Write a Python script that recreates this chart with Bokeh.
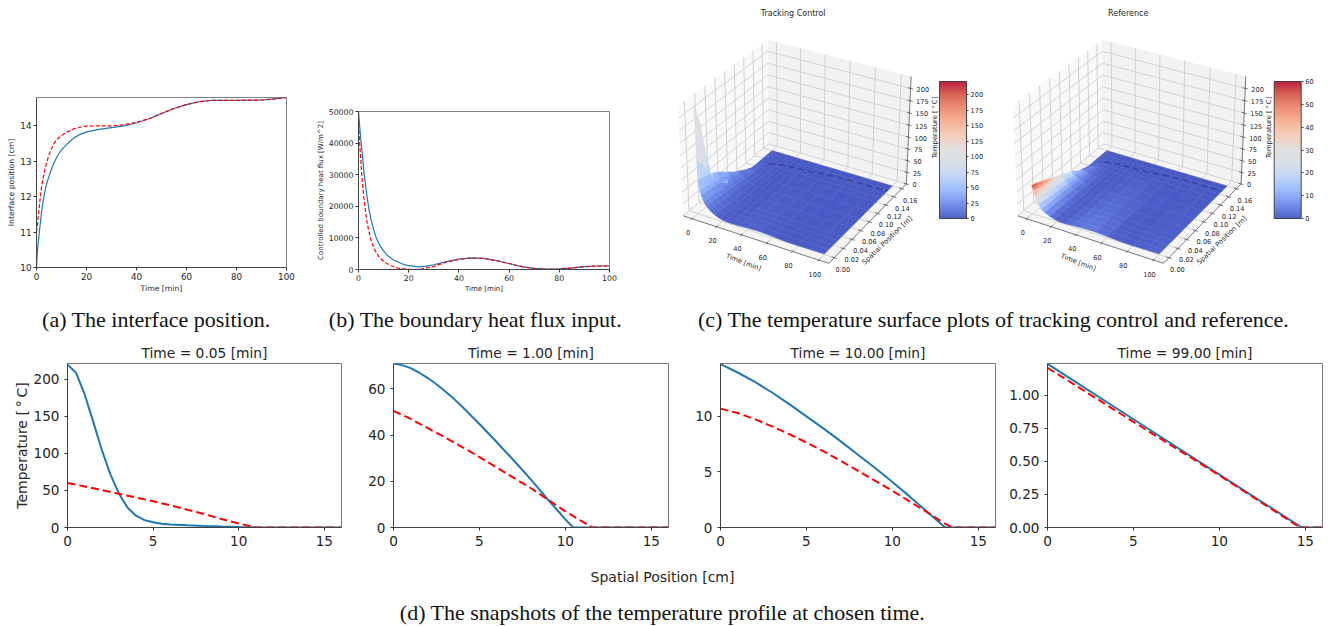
import numpy as np
from bokeh.plotting import figure
from bokeh.layouts import column, row
from bokeh.models import FixedTicker, NumeralTickFormatter, Range1d, ColorBar, LinearColorMapper
from bokeh.core.properties import value
from bokeh.embed import file_html
from bokeh.resources import INLINE

# ---------- panel (a): interface position ----------
a_t_blue = [0, 0.3, 0.6, 1, 1.5, 2, 2.5, 3, 3.5, 4, 5, 5.7, 7, 8, 9, 10, 12.4, 15, 17.5, 20, 25, 30, 35, 40, 45, 50, 55, 60, 65, 70, 80, 90, 95, 100]
a_s_blue = [10, 10.4, 10.65, 10.9, 11.25, 11.55, 11.8, 12.0, 12.2, 12.35, 12.58, 12.72, 12.96, 13.1, 13.22, 13.32, 13.5, 13.66, 13.76, 13.83, 13.9, 13.95, 14.0, 14.08, 14.2, 14.35, 14.49, 14.6, 14.68, 14.72, 14.72, 14.73, 14.76, 14.8]
a_t_red = [0, 0.25, 0.5, 1, 1.7, 2.2, 2.7, 3.2, 3.7, 4.3, 5, 6, 7, 8, 9, 10, 11, 12.4, 15, 17.5, 20, 25, 30, 35, 40, 45, 50, 55, 60, 65, 70, 80, 90, 95, 100]
a_s_red = [11, 11.15, 11.3, 11.65, 12.1, 12.35, 12.55, 12.72, 12.86, 13.02, 13.18, 13.36, 13.5, 13.6, 13.67, 13.72, 13.77, 13.83, 13.92, 13.96, 13.99, 14.0, 14.0, 14.03, 14.1, 14.2, 14.35, 14.49, 14.6, 14.68, 14.72, 14.72, 14.73, 14.76, 14.8]

# ---------- panel (b): boundary heat flux ----------
b_t_blue = [0, 0.5, 1, 1.5, 2.3, 3, 3.6, 4.3, 5, 6, 7, 8, 9, 10, 11.5, 13, 15, 18, 20, 24, 27, 30, 35, 40, 45, 50, 55, 60, 65, 70, 75, 80, 85, 90, 95, 100]
b_q_blue = [50000, 45000, 40500, 36500, 30000, 25500, 22000, 18500, 15800, 12700, 10200, 8300, 7000, 5900, 4500, 3500, 2600, 1600, 1200, 850, 1050, 1500, 2500, 3300, 3700, 3500, 2800, 1900, 900, 350, 100, 200, 500, 900, 1100, 1150]
b_t_red = [0, 0.5, 1, 1.5, 2.3, 3.2, 4, 5, 6, 7, 8, 9, 10, 11.5, 13, 16, 20, 22, 25, 30, 35, 40, 45, 50, 55, 60, 65, 70, 75, 80, 85, 90, 95, 100]
b_q_red = [46000, 39500, 33500, 28000, 21500, 16000, 12500, 9300, 7000, 5500, 4200, 3300, 2600, 1800, 1200, 400, 30, 0, 100, 1000, 2300, 3200, 3650, 3500, 2800, 1900, 900, 300, 60, 180, 480, 880, 1080, 1130]

# ---------- panels (d): snapshots ----------
snap_titles = ["Time = 0.05 [min]", "Time = 1.00 [min]", "Time = 10.00 [min]", "Time = 99.00 [min]"]
snap_ymax = [221.5, 71, 14.76, 1.242]
snap_yticks = [[0, 50, 100, 150, 200], [0, 20, 40, 60], [0, 5, 10], [0, 0.25, 0.5, 0.75, 1.0]]
s1_x_blue = [0, 0.5, 1, 1.5, 2, 2.5, 3, 3.5, 4, 4.5, 5, 5.5, 6, 7, 8, 9, 10, 11, 12, 13, 16]
s1_y_blue = [220, 209, 180, 143, 105, 72, 46, 27, 16, 10, 7, 5.2, 4.2, 3, 2, 1.3, 0.8, 0.4, 0.1, 0, 0]
s1_x_red = [0, 1, 2, 3, 4, 5, 6, 7, 8, 9, 10, 11, 16]
s1_y_red = [60, 55.5, 50.5, 45.5, 40.5, 35.5, 30, 24, 18, 11.5, 5.5, 0, 0]
s2_x_blue = [0, 0.5, 1, 1.5, 2, 2.5, 3, 3.5, 4, 5, 6, 7, 8, 9, 10, 10.45, 16]
s2_y_blue = [71, 70.3, 69, 67, 64.7, 62, 59, 55.8, 52.3, 44.8, 37, 29, 20.7, 12, 3.5, 0, 0]
s2_x_red = [0, 1, 2, 3, 4, 5, 6, 7, 8, 9, 10, 11, 11.55, 16]
s2_y_red = [50.5, 47, 43, 39, 34.8, 30.5, 26, 21.5, 17, 12, 7, 2.5, 0, 0]
s3_x_blue = [0, 1, 2, 3, 4, 5, 6, 7, 8, 9, 10, 11, 12, 13, 13.1, 16]
s3_y_blue = [14.7, 13.95, 13.1, 12.15, 11.1, 10, 8.9, 7.75, 6.55, 5.35, 4.1, 2.8, 1.45, 0.1, 0, 0]
s3_x_red = [0, 1, 2, 3, 4, 5, 6, 7, 8, 9, 10, 11, 12, 13, 13.5, 16]
s3_y_red = [10.7, 10.3, 9.75, 9.1, 8.4, 7.65, 6.85, 6, 5.1, 4.2, 3.3, 2.35, 1.4, 0.4, 0, 0]
s4_x_blue = [0, 5, 10, 14.8, 16]
s4_y_blue = [1.24, 0.82, 0.40, 0, 0]
s4_x_red = [0, 5, 10, 14.7, 16]
s4_y_red = [1.21, 0.80, 0.395, 0, 0]

# ---------- panels (c): temperature surfaces ----------
surf_y_cm = [0, 1, 2, 3, 4, 6, 8, 10, 12, 13, 14, 15, 16]
surf_t_min = [0, 0.5, 1, 2, 3, 5, 7, 10, 14, 18, 22, 27, 33, 40, 50, 60, 70, 80, 90, 100]
tracking_T = [
    [220, 180, 105, 46, 16, 4.2, 2, 0.8, 0, 0, 0, 0, 0],
    [110, 98, 76, 52, 33, 13, 5, 1.5, 0, 0, 0, 0, 0],
    [71, 69, 65.5, 60.5, 53.5, 37, 20.5, 3.5, 0, 0, 0, 0, 0],
    [52, 50, 47, 44, 41, 33, 23, 10, 0, 0, 0, 0, 0],
    [42, 41, 39, 36, 33, 27, 20, 12, 2, 0, 0, 0, 0],
    [30, 29, 27.5, 26, 24, 20, 15, 9.5, 4, 1, 0, 0, 0],
    [22, 21, 20, 19, 18, 15, 11.5, 8, 3.5, 1, 0, 0, 0],
    [14.7, 13.9, 13, 12, 11, 8.8, 6.5, 4.1, 1.4, 0.1, 0, 0, 0],
    [8.5, 8, 7.5, 7, 6.4, 5.2, 4, 2.8, 1.4, 0.6, 0, 0, 0],
    [4.5, 4.2, 3.9, 3.6, 3.3, 2.7, 2.1, 1.5, 0.8, 0.4, 0, 0, 0],
    [2.2, 2, 1.9, 1.7, 1.6, 1.3, 1, 0.7, 0.4, 0.2, 0, 0, 0],
    [1.6, 1.5, 1.4, 1.3, 1.1, 0.9, 0.7, 0.5, 0.2, 0.1, 0, 0, 0],
    [2.3, 2.1, 2, 1.8, 1.6, 1.3, 1, 0.7, 0.3, 0.2, 0, 0, 0],
    [3.6, 3.4, 3.1, 2.9, 2.6, 2.1, 1.6, 1.1, 0.6, 0.3, 0.05, 0, 0],
    [4.2, 3.9, 3.6, 3.3, 3, 2.4, 1.9, 1.3, 0.7, 0.4, 0.1, 0, 0],
    [2.7, 2.5, 2.3, 2.1, 1.9, 1.6, 1.2, 0.8, 0.5, 0.3, 0.1, 0, 0],
    [0.9, 0.85, 0.8, 0.75, 0.65, 0.55, 0.4, 0.3, 0.15, 0.1, 0.04, 0, 0],
    [0.5, 0.47, 0.43, 0.4, 0.36, 0.3, 0.23, 0.16, 0.09, 0.06, 0.02, 0, 0],
    [0.95, 0.9, 0.8, 0.75, 0.7, 0.55, 0.43, 0.3, 0.18, 0.1, 0.04, 0, 0],
    [1.24, 1.15, 1.07, 0.98, 0.9, 0.74, 0.57, 0.4, 0.23, 0.15, 0.07, 0, 0],
]
reference_T = [
    [60, 56, 51, 46, 41, 31, 19.5, 6, 0, 0, 0, 0, 0],
    [55, 51.5, 47, 42.5, 38, 28.5, 18.5, 7, 0, 0, 0, 0, 0],
    [50.5, 47, 43, 39, 34.5, 26, 17, 7, 0, 0, 0, 0, 0],
    [40, 38, 35, 32, 29, 23, 16, 8, 0.5, 0, 0, 0, 0],
    [33, 31, 29, 27, 25, 20, 14.5, 8, 1.5, 0, 0, 0, 0],
    [24, 23, 21.5, 20, 18.5, 15, 11, 7, 2.5, 0.5, 0, 0, 0],
    [16, 15, 14.3, 13.5, 12.5, 10.3, 8, 5.2, 2.2, 0.7, 0, 0, 0],
    [10.7, 10.3, 9.7, 9.1, 8.4, 6.8, 5.1, 3.3, 1.4, 0.4, 0, 0, 0],
    [6, 5.7, 5.3, 5, 4.6, 3.7, 2.9, 2, 1, 0.5, 0.05, 0, 0],
    [2.8, 2.6, 2.4, 2.3, 2.1, 1.7, 1.3, 0.9, 0.5, 0.25, 0, 0, 0],
    [1, 0.95, 0.9, 0.8, 0.75, 0.6, 0.45, 0.3, 0.15, 0.1, 0, 0, 0],
    [1, 0.95, 0.9, 0.8, 0.75, 0.6, 0.45, 0.3, 0.15, 0.1, 0, 0, 0],
    [2.2, 2, 1.9, 1.7, 1.5, 1.2, 0.9, 0.6, 0.3, 0.2, 0, 0, 0],
    [3.5, 3.3, 3, 2.8, 2.5, 2, 1.5, 1, 0.6, 0.3, 0.05, 0, 0],
    [4.1, 3.8, 3.5, 3.2, 2.9, 2.3, 1.8, 1.3, 0.7, 0.4, 0.1, 0, 0],
    [2.7, 2.5, 2.3, 2.1, 1.9, 1.6, 1.2, 0.8, 0.5, 0.3, 0.1, 0, 0],
    [0.85, 0.8, 0.75, 0.7, 0.6, 0.5, 0.4, 0.3, 0.15, 0.1, 0.04, 0, 0],
    [0.45, 0.42, 0.4, 0.37, 0.33, 0.27, 0.2, 0.15, 0.08, 0.05, 0.02, 0, 0],
    [0.93, 0.88, 0.78, 0.73, 0.68, 0.53, 0.42, 0.3, 0.17, 0.1, 0.04, 0, 0],
    [1.21, 1.12, 1.05, 0.96, 0.88, 0.72, 0.56, 0.39, 0.23, 0.15, 0.07, 0, 0],
]
x3_ticks = [0, 20, 40, 60, 80, 100]
y3_ticks = [0, 0.02, 0.04, 0.06, 0.08, 0.10, 0.12, 0.14, 0.16]
z3_ticks = [0, 25, 50, 75, 100, 125, 150, 175, 200]
cb_ticks_tracking = [0, 25, 50, 75, 100, 125, 150, 175, 200]
cb_ticks_reference = [0, 10, 20, 30, 40, 50, 60]

# ---------- colours and fonts ----------
BLUE, RED, INK = "#1f77b4", "#ff0000", "#262626"
SANS, SERIF = value("DejaVu Sans"), value("Liberation Serif")
coolwarm_anchors = ["#3b4cc0", "#6282ea", "#8db0fe", "#b7cff9", "#d4dbe6", "#dddcdc",
                    "#f2cbb7", "#f7ac8e", "#ee8468", "#d65244", "#b40426"]


def coolwarm_rgb(f):
    f = float(np.clip(f, 0, 1)) * 10
    i = min(int(f), 9)
    w = f - i
    a = [int(coolwarm_anchors[i][k:k + 2], 16) for k in (1, 3, 5)]
    b = [int(coolwarm_anchors[i + 1][k:k + 2], 16) for k in (1, 3, 5)]
    return [p + (q - p) * w for p, q in zip(a, b)]


def coolwarm(f, white=0.0):
    rgb = coolwarm_rgb(f)
    return "#%02x%02x%02x" % tuple(int(round(c + (255 - c) * white)) for c in rgb)


palette256 = [coolwarm(i / 255) for i in range(256)]


def style_axes(p, tick_size, label_size, xticks, yticks, outline="#808080", standoff=2):
    p.xgrid.visible = False
    p.ygrid.visible = False
    p.outline_line_color = outline
    p.outline_line_width = 1
    p.xaxis.ticker = FixedTicker(ticks=xticks)
    p.yaxis.ticker = FixedTicker(ticks=yticks)
    for ax in (p.xaxis[0], p.yaxis[0]):
        ax.major_label_text_font = "DejaVu Sans"
        ax.major_label_text_font_size = tick_size
        ax.major_label_text_color = INK
        ax.axis_label_text_font = "DejaVu Sans"
        ax.axis_label_text_font_size = label_size
        ax.axis_label_text_font_style = "normal"
        ax.axis_label_text_color = INK
        ax.major_tick_in = 0
        ax.major_tick_out = 3
        ax.minor_tick_line_color = None
        ax.axis_line_color = "#444444"
        ax.major_tick_line_color = "#333333"
        ax.major_label_standoff = standoff
        ax.axis_label_standoff = 1


def line_panel(w, h, borders, xr, yr):
    left, right, top, bottom = borders
    return figure(width=w, height=h, x_range=Range1d(*xr), y_range=Range1d(*yr),
                  min_border_left=left, min_border_right=right, min_border_top=top,
                  min_border_bottom=bottom, output_backend="svg", toolbar_location=None,
                  tools="", frame_align=False)


# panel a
pa = line_panel(310, 295, (36, 24, 97, 26), (0, 100), (10, 14.8))
pa.line(a_t_blue, a_s_blue, line_color=BLUE, line_width=1.2)
pa.line(a_t_red, a_s_red, line_color=RED, line_width=1.2, line_dash="4 2")
pa.xaxis.axis_label = "Time [min]"
pa.yaxis.axis_label = "Interface position [cm]"
style_axes(pa, "8.8px", "7.7px", [0, 20, 40, 60, 80, 100], [10, 11, 12, 13, 14])

# panel b
pb = line_panel(330, 295, (48, 31, 111, 24), (0, 100), (0, 50000))
pb.line(b_t_blue, b_q_blue, line_color=BLUE, line_width=1.2)
pb.line(b_t_red, b_q_red, line_color=RED, line_width=1.2, line_dash="4 2")
pb.xaxis.axis_label = "Time [min]"
pb.yaxis.axis_label = "Controlled boundary heat flux [W/m^2]"
style_axes(pb, "7.8px", "7px", [0, 20, 40, 60, 80, 100], [0, 10000, 20000, 30000, 40000, 50000])
pb.yaxis[0].formatter = NumeralTickFormatter(format="0")

# ---------- 3D panels: matplotlib-like camera, calibrated on the box corners ----------
PX0, PX1, PY0, PY1 = 640, 1330, 0, 295
pc = figure(width=PX1 - PX0, height=PY1 - PY0, x_range=Range1d(PX0, PX1), y_range=Range1d(PY1, PY0),
            min_border=0, output_backend="svg", toolbar_location=None, tools="", frame_align=False)
pc.axis.visible = False
pc.grid.visible = False
pc.outline_line_color = None

XLIM, YLIM, ZLIM = (-7.5, 107.5), (-0.012, 0.172), (0, 224)
BOX = np.array([1.143, 1.143, 0.857])
EL, AZ, DIST = np.radians(30), np.radians(-60), 10.0
W = np.array([np.cos(EL) * np.cos(AZ), np.cos(EL) * np.sin(AZ), np.sin(EL)])
U = np.cross([0, 0, 1], W)
U = U / np.linalg.norm(U)
V = np.cross(W, U)


def cam(x, y, z):
    n = np.stack([(np.asarray(x, float) - XLIM[0]) / (XLIM[1] - XLIM[0]),
                  (np.asarray(y, float) - YLIM[0]) / (YLIM[1] - YLIM[0]),
                  (np.asarray(z, float) - ZLIM[0]) / (ZLIM[1] - ZLIM[0])], axis=-1)
    q = (n - 0.5) * BOX
    d = q @ W
    return (q @ U) / (DIST - d), (q @ V) / (DIST - d), d


corner_cube = [(0, 0, 0), (1, 0, 0), (1, 1, 0), (0, 1, 0), (0, 0, 1), (0, 1, 1), (1, 1, 1)]
corner_px = [(682.7, 215), (828.3, 263.3), (906, 182.7), (767.3, 144), (677.7, 105), (767.3, 39.3), (910.7, 76)]
cc = np.array(corner_cube, float)
cu, cv, _ = cam(XLIM[0] + cc[:, 0] * (XLIM[1] - XLIM[0]), YLIM[0] + cc[:, 1] * (YLIM[1] - YLIM[0]),
                ZLIM[0] + cc[:, 2] * (ZLIM[1] - ZLIM[0]))
cp = np.array(corner_px)
fx = np.linalg.lstsq(np.c_[cu, np.ones(7)], cp[:, 0], rcond=None)[0]
fy = np.linalg.lstsq(np.c_[cv, np.ones(7)], cp[:, 1], rcond=None)[0]


def to_px(x, y, z, off=0.0):
    u, v, _ = cam(x, y, z)
    return fx[0] * u + fx[1] + off, fy[0] * v + fy[1]


def seg(pairs, off):
    xs, ys = [], []
    for a, b in pairs:
        sx, sy = to_px([a[0], b[0]], [a[1], b[1]], [a[2], b[2]], off)
        xs.append(list(sx))
        ys.append(list(sy))
    return xs, ys


def panel3d(title, title_x, table, vmax, interface_t, interface_s, off, cb_ticks):
    x0, x1 = XLIM
    y0, y1 = YLIM
    z0, z1 = ZLIM
    # panes
    for (a, b, c, d), col in (
        (((x0, y0, z0), (x0, y1, z0), (x0, y1, z1), (x0, y0, z1)), "#f9f9f9"),
        (((x0, y1, z0), (x1, y1, z0), (x1, y1, z1), (x0, y1, z1)), "#f2f2f2"),
        (((x0, y0, z0), (x1, y0, z0), (x1, y1, z0), (x0, y1, z0)), "#f5f5f5"),
    ):
        pts = np.array([a, b, c, d])
        sx, sy = to_px(pts[:, 0], pts[:, 1], pts[:, 2], off)
        pc.patch(list(sx), list(sy), fill_color=col, line_color=None)
    # grid
    pairs = []
    for t in x3_ticks:
        pairs += [((t, y0, z0), (t, y1, z0)), ((t, y1, z0), (t, y1, z1))]
    for t in y3_ticks:
        pairs += [((x0, t, z0), (x1, t, z0)), ((x0, t, z0), (x0, t, z1))]
    for t in z3_ticks:
        pairs += [((x0, y0, t), (x0, y1, t)), ((x0, y1, t), (x1, y1, t))]
    xs, ys = seg(pairs, off)
    pc.multi_line(xs, ys, line_color="#d2d2d2", line_width=1)
    # axis lines and ticks
    dy = 0.003
    dx = 2.0
    pairs = [((x0, y0, z0), (x1, y0, z0)), ((x1, y0, z0), (x1, y1, z0)), ((x1, y1, z0), (x1, y1, z1))]
    for t in x3_ticks:
        pairs.append(((t, y0 - dy, z0), (t, y0 + dy, z0)))
    for t in y3_ticks:
        pairs.append(((x1 - dx, t, z0), (x1 + dx, t, z0)))
    for t in z3_ticks:
        pairs.append(((x1 - dx, y1, t), (x1 + dx, y1, t)))
    xs, ys = seg(pairs, off)
    pc.multi_line(xs, ys, line_color="#555555", line_width=0.8)
    # surface, painted from the far cells to the near ones; a cell takes the colour of its later-time edge
    Z = np.array(table, float)
    T = np.array(surf_t_min, float)
    Y = np.array(surf_y_cm, float) / 100
    cells = []
    for i in range(len(T) - 1):
        for j in range(len(Y) - 1):
            cx = [T[i], T[i + 1], T[i + 1], T[i]]
            cy = [Y[j], Y[j], Y[j + 1], Y[j + 1]]
            cz = [Z[i, j], Z[i + 1, j], Z[i + 1, j + 1], Z[i, j + 1]]
            sx, sy = to_px(cx, cy, cz, off)
            depth = cam(np.mean(cx), np.mean(cy), np.mean(cz))[2]
            tone = (Z[i + 1, j] + Z[i + 1, j + 1]) / 2 / vmax
            cells.append((float(depth), list(sx), list(sy), coolwarm(tone, 0.07)))
    cells.sort(key=lambda c: c[0])
    cols = [c[3] for c in cells]
    pc.patches([c[1] for c in cells], [c[2] for c in cells], fill_color=cols, line_color=cols,
               line_width=0.4)
    # dark band along the moving interface
    sx, sy = to_px(interface_t, np.array(interface_s) / 100, np.zeros(len(interface_t)), off)
    pc.line(list(sx), list(sy), line_color="#2c3a96", line_alpha=0.75, line_width=1.4, line_dash="6 4")
    # text
    txt = dict(text_font=SANS, text_color=INK, text_baseline="middle")
    pc.text([title_x], [13], [title], text_font_size="8px", text_align="center", **txt)
    sx, sy = to_px(x3_ticks, [y0] * len(x3_ticks), [z0] * len(x3_ticks), off)
    pc.text(list(sx - 4), list(sy + 14), [str(t) for t in x3_ticks], text_font_size="6.6px", text_align="center", **txt)
    sx, sy = to_px([x1] * len(y3_ticks), y3_ticks, [z0] * len(y3_ticks), off)
    pc.text(list(sx + 8.5), list(sy + 11.3), ["%.2f" % t for t in y3_ticks], text_font_size="6.6px", text_align="center", **txt)
    sx, sy = to_px([x1] * len(z3_ticks), [y1] * len(z3_ticks), z3_ticks, off)
    pc.text(list(sx + 6), list(sy + 1), [str(t) for t in z3_ticks], text_font_size="6.6px", text_align="left", **txt)
    pc.text([743 + off], [262], ["Time [min]"], angle=-0.37, text_font_size="6.8px", text_align="center", **txt)
    pc.text([886.7 + off], [240], ["Spatial Position [m]"], angle=0.77, text_font_size="6.8px", text_align="center", **txt)
    pc.text([934 + off], [127], ["Temperature [\u2009°\u2009C]"], angle=np.pi / 2, text_font_size="6.8px", text_align="center", **txt)
    # colour bar
    mapper = LinearColorMapper(palette=palette256, low=0, high=vmax)
    cb = ColorBar(color_mapper=mapper, ticker=FixedTicker(ticks=cb_ticks), width=27, height=137,
                  location=(299 + off, 77), padding=0, margin=0, scale_alpha=0.88,
                  background_fill_alpha=0, border_line_color=None, bar_line_color="#333333",
                  major_tick_in=0, major_tick_out=2, major_tick_line_color="#333333",
                  minor_tick_line_color=None, major_label_text_font="DejaVu Sans",
                  major_label_text_font_size="6.6px", major_label_text_color=INK,
                  label_standoff=2)
    pc.add_layout(cb, "center")


i_t = [a for a in a_t_blue if a >= 8]
i_s = [b for a, b in zip(a_t_blue, a_s_blue) if a >= 8]
r_t = [a for a in a_t_red if a >= 7]
r_s = [b for a, b in zip(a_t_red, a_s_red) if a >= 7]
panel3d("Tracking Control", 792.7, tracking_T, 221, i_t, i_s, 0.0, cb_ticks_tracking)
panel3d("Reference", 1127.7, reference_T, 60, r_t, r_s, 334.7, cb_ticks_reference)


def text_strip(h, y0, items):
    p = figure(width=1330, height=h, x_range=Range1d(0, 1330), y_range=Range1d(y0 + h, y0),
               min_border=0, output_backend="svg", toolbar_location=None, tools="", frame_align=False)
    p.axis.visible = False
    p.grid.visible = False
    p.outline_line_color = None
    for x, y, s, font, size, col in items:
        p.text([x], [y], [s], text_font=font, text_font_size=size, text_color=col,
               text_align="center", text_baseline="middle")
    return p


caps = text_strip(43, 295, [
    (155.8, 318.5, "(a) The interface position.", SERIF, "22px", "#111111"),
    (475, 318.5, "(b) The boundary heat flux input.", SERIF, "22px", "#111111"),
    (993, 318.5, "(c) The temperature surface plots of tracking control and reference.", SERIF, "22px", "#111111"),
])

# ---------- panels d ----------
snap_series = [(s1_x_blue, s1_y_blue, s1_x_red, s1_y_red), (s2_x_blue, s2_y_blue, s2_x_red, s2_y_red),
               (s3_x_blue, s3_y_blue, s3_x_red, s3_y_red), (s4_x_blue, s4_y_blue, s4_x_red, s4_y_red)]
snap_layout = [(365, (67, 24, 25, 21)), (327, (28, 24, 25, 21)), (310, (28, 7, 25, 21)), (328, (45, 8, 25, 21))]
snaps = []
for k in range(4):
    w, borders = snap_layout[k]
    p = line_panel(w, 210, borders, (0, 16), (0, snap_ymax[k]))
    xb, yb, xr, yr = snap_series[k]
    p.line(xb, yb, line_color=BLUE, line_width=2)
    p.line(xr, yr, line_color=RED, line_width=2, line_dash="8 4")
    p.title.text = snap_titles[k]
    p.title.text_font = "DejaVu Sans"
    p.title.text_font_size = "13.8px"
    p.title.text_font_style = "normal"
    p.title.text_color = INK
    p.title.align = "center"
    p.title.standoff = 6
    style_axes(p, "13.6px", "14px", [0, 5, 10, 15], snap_yticks[k], outline="#777777", standoff=5)
    if k == 0:
        p.yaxis.axis_label = "Temperature [\u2009°\u2009C]"
    if k == 3:
        p.yaxis[0].formatter = NumeralTickFormatter(format="0.00")
    else:
        p.yaxis[0].formatter = NumeralTickFormatter(format="0")
    snaps.append(p)

foot = text_strip(77, 548, [
    (662, 576, "Spatial Position [cm]", SANS, "14px", INK),
    (662, 612, "(d) The snapshots of the temperature profile at chosen time.", SERIF, "22px", "#111111"),
])

page = column(row(pa, pb, pc), caps, row(*snaps), foot)
open("out.html", "w").write(file_html(page, INLINE))
